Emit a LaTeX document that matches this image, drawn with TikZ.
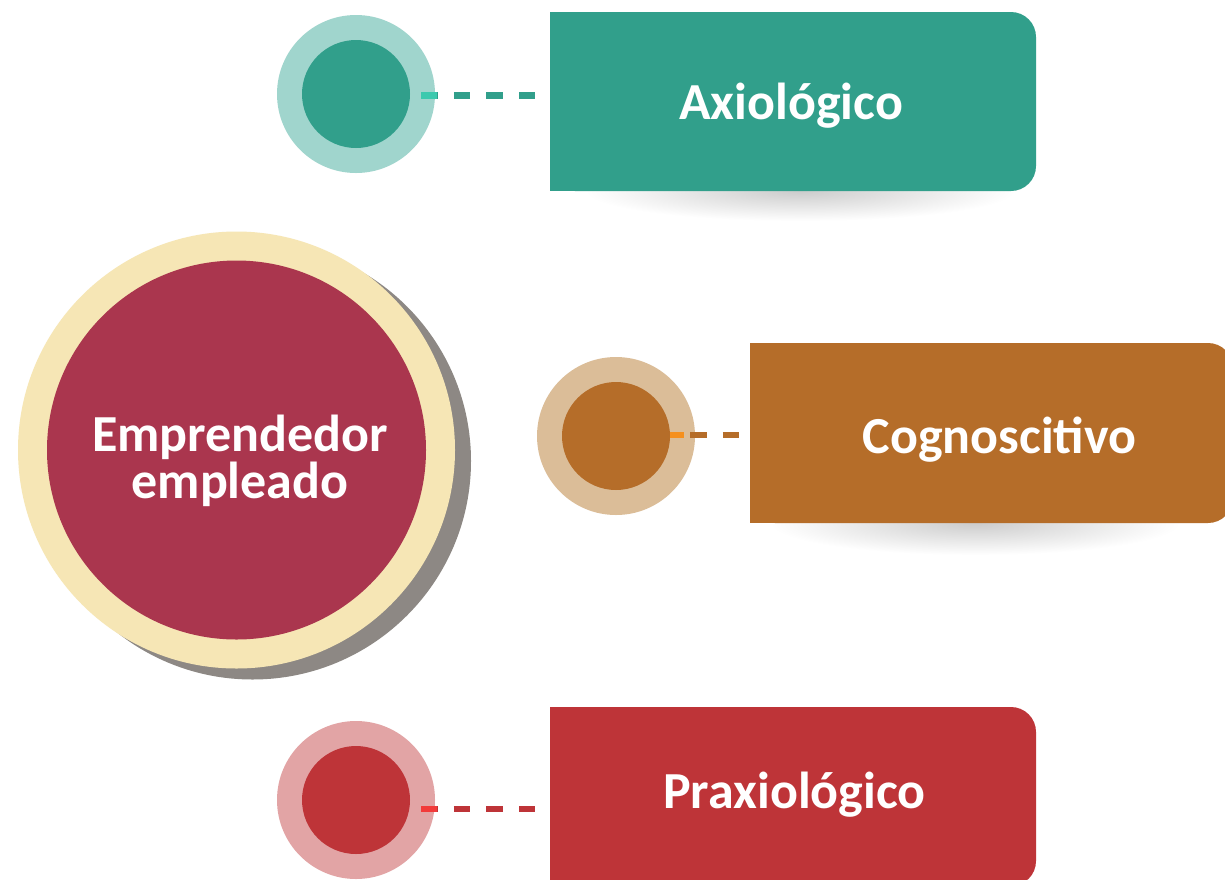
\documentclass[tikz,border=0pt]{standalone}
\usepackage{fontspec}
\setmainfont{Carlito}
\definecolor{teal1}{HTML}{319F8B}
\definecolor{teal2}{HTML}{A0D5CD}
\definecolor{tealhi}{HTML}{3DC9AE}
\definecolor{ochre1}{HTML}{B56D29}
\definecolor{ochre2}{HTML}{DBBD98}
\definecolor{ochrehi}{HTML}{F5901E}
\definecolor{red1}{HTML}{BE3438}
\definecolor{red2}{HTML}{E2A4A5}
\definecolor{redhi}{HTML}{F23A3A}
\definecolor{wine}{HTML}{AA364E}
\definecolor{cream}{HTML}{F6E6B5}
\definecolor{shadowgray}{HTML}{8D8884}
\begin{document}
\begin{tikzpicture}[x=1pt,y=-1pt,
  ring/.style={circle, inner sep=0pt, minimum size=158pt},
  dot/.style={circle, inner sep=0pt, minimum size=108pt},
  card/.style={rectangle, inner sep=0pt, rounded corners=25pt},
  lbl/.style={text=white, font=\fontsize{52}{47}\selectfont\bfseries, inner sep=0pt},
  link/.style={line width=6.5pt, dash pattern=on 16.3pt off 16.3pt},
  hilite/.style={line width=6.5pt},
  softshadow/.style={inner color=black!20, outer color=white}
]
\useasboundingbox (0,0) rectangle (1225,879);
\clip (0,0) rectangle (1225,879);
\fill[white] (0,0) rectangle (1225,879);

% central circle
\node[circle, inner sep=0pt, fill=shadowgray, minimum size=437pt] (coreshadow) at (252.5,461) {};
\node[circle, inner sep=0pt, fill=cream, minimum size=437pt] (corering) at (236.5,450) {};
\node[circle, inner sep=0pt, fill=wine, minimum size=379pt] (core) at (236.5,450) {};
\node[lbl, align=center] (coretext) at (240,461) {Emprendedor\\empleado};

% shadows under cards
\shade[softshadow] (800,191) ellipse [x radius=215pt, y radius=30pt];
\shade[softshadow] (975,523) ellipse [x radius=205pt, y radius=32pt];

% top item
\node[card, fill=teal1, minimum width=486pt, minimum height=179pt] (r1) at (793,101.5) {};
\fill[teal1] (r1.south west) rectangle (r1.north);
\node[lbl, anchor=base] (t1) at (791,119) {Axiológico};
\node[ring, fill=teal2] (c1) at (356,94) {};
\node[dot, fill=teal1] (d1) at (356,94) {};
\draw[link, teal1] ([xshift=11pt,yshift=-1.5pt]d1.east) -- ([xshift=-15pt,yshift=-1.5pt]r1.west |- d1.east);
\draw[hilite, tealhi] ([xshift=11pt,yshift=-1.5pt]d1.east) -- ([xshift=27pt,yshift=-1.5pt]d1.east);

% middle item
\node[card, fill=ochre1, minimum width=483pt, minimum height=180pt] (r2) at (991.5,433) {};
\fill[ochre1] (r2.south west) rectangle (r2.north);
\node[lbl, anchor=base] (t2) at (999.5,453) {Cognoscitivo};
\node[ring, fill=ochre2] (c2) at (616,436) {};
\node[dot, fill=ochre1] (d2) at (616,436) {};
\draw[link, ochre1] ([xshift=20pt,yshift=1pt]d2.east) -- ([xshift=-10pt,yshift=1pt]r2.west |- d2.east);
\draw[hilite, ochrehi] ([yshift=1pt]d2.east) -- ([xshift=14pt,yshift=1pt]d2.east);

% bottom item
\node[card, fill=red1, minimum width=486pt, minimum height=179pt] (r3) at (793,796.5) {};
\fill[red1] (r3.south west) rectangle (r3.north);
\node[lbl, anchor=base] (t3) at (794.5,808) {Praxiológico};
\node[ring, fill=red2] (c3) at (356,800) {};
\node[dot, fill=red1] (d3) at (356,800) {};
\draw[link, red1] ([xshift=11pt,yshift=-9pt]d3.east) -- ([xshift=-15pt,yshift=-9pt]r3.west |- d3.east);
\draw[hilite, redhi] ([xshift=11pt,yshift=-9pt]d3.east) -- ([xshift=27pt,yshift=-9pt]d3.east);
\end{tikzpicture}
\end{document}
